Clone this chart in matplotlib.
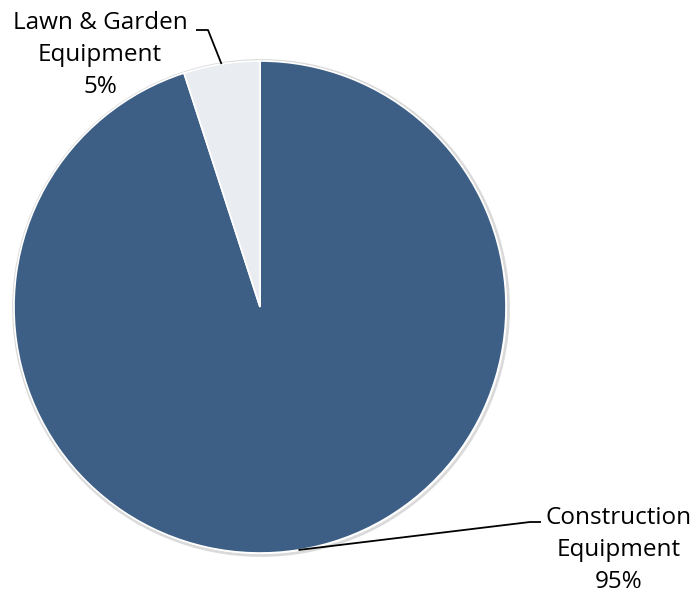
import matplotlib.pyplot as plt
import numpy as np
from matplotlib.patches import Circle

# data
labels = ["Construction\nEquipment", "Lawn & Garden\nEquipment"]
shares = [95, 5]
colors = ["#3E5F85", "#E9EDF1"]

plt.rcParams["font.family"] = ["Open Sans", "DejaVu Sans"]

fig = plt.figure(figsize=(6.99, 5.94), dpi=100)
ax = fig.add_axes([0, 0, 1, 1])

cx, cy, r = 260, 307, 246

# faint shadow ring around the pie
ax.add_patch(Circle((cx + 1, cy + 1), r + 1.5, facecolor="none",
                    edgecolor="#DADADA", lw=2, zorder=0))

# y axis is flipped below, so start at -90 and go counterclockwise in data
# terms -> visually starts at 12 o'clock and runs clockwise
wedges, _ = ax.pie(shares, colors=colors, startangle=-90, counterclock=True,
                   center=(cx, cy), radius=r,
                   wedgeprops=dict(edgecolor="white", linewidth=1.2))

ax.set_xlim(0, 699)
ax.set_ylim(594, 0)
ax.set_aspect("equal")
ax.axis("off")

text_pos = [(619, 550), (100, 55)]
elbow = [((530, 522), (541, 522)), ((208, 30), (196, 30))]
for w, lab, pct, tp, el in zip(wedges, labels, shares, text_pos, elbow):
    mid = np.deg2rad((w.theta1 + w.theta2) / 2)
    ax_x = cx + r * np.cos(mid)
    ax_y = cy + r * np.sin(mid)
    ax.plot([ax_x, el[0][0], el[1][0]], [ax_y, el[0][1], el[1][1]],
            color="black", lw=1.3, solid_capstyle="butt")
    ax.text(tp[0], tp[1], f"{lab}\n{pct}%", ha="center", va="center",
            fontsize=17.5, linespacing=1.45)

fig.savefig("out.png", dpi=100)
